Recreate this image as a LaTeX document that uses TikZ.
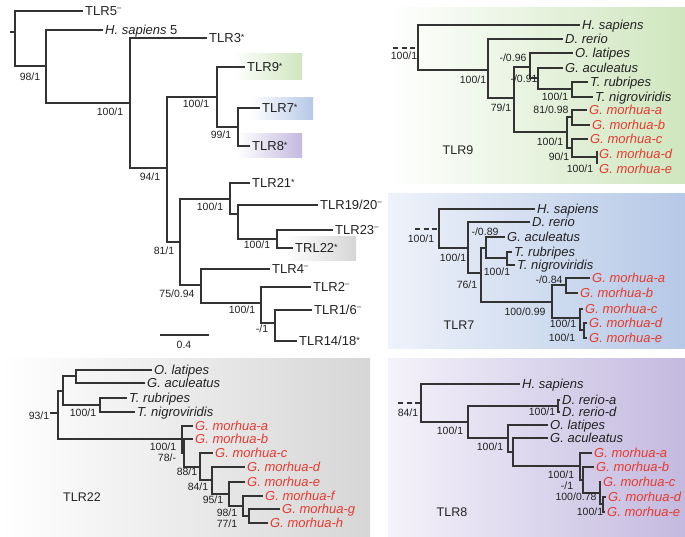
\documentclass[tikz,border=0pt]{standalone}
\usepackage{fontspec}
\setmainfont{Liberation Sans}
\definecolor{ln}{HTML}{333333}
\definecolor{txt}{HTML}{222222}
\definecolor{morhua}{HTML}{E63A2E}
\definecolor{gR}{HTML}{CFE6BE}
\definecolor{bR}{HTML}{B5C8E6}
\definecolor{bL}{HTML}{EEF2FA}
\definecolor{pR}{HTML}{C3B9DF}
\definecolor{pL}{HTML}{F4F2FA}
\definecolor{kR}{HTML}{D6D6D6}
\newcommand{\sm}{\raisebox{5pt}{\fontsize{8}{8}\selectfont\textendash}}
\newcommand{\sa}{\raisebox{2.5pt}{\fontsize{9}{9}\selectfont *}}
\begin{document}
\begin{tikzpicture}[x=1pt,y=-1pt,
 br/.style={draw=ln, line width=1.3pt},
 stub/.style={draw=ln, line width=1.3pt, dash pattern=on 5pt off 3.5pt},
 leaf/.style={anchor=west, inner sep=2pt, font=\fontsize{13}{13}\selectfont, text=txt, text height=9.5pt, text depth=0.5pt},
 sp/.style={leaf, font=\fontsize{13}{13}\selectfont\itshape},
 gm/.style={sp, text=morhua},
 bs/.style={font=\fontsize{10.5}{10.5}\selectfont, text=txt, inner sep=0pt},
 ttl/.style={font=\fontsize{12.5}{12.5}\selectfont, text=txt, inner sep=0pt}]
\useasboundingbox (0,0) rectangle (685,536);
% backgrounds
\shade[left color=white, right color=gR] (388,7) rectangle (685,183);
\shade[left color=bL, right color=bR] (388,193) rectangle (685,348);
\shade[left color=pL, right color=pR] (388,358) rectangle (685,536);
\shade[left color=white, right color=kR] (0,358) rectangle (370,536);
\shade[left color=white, right color=gR] (233,53) rectangle (302,79);
\shade[left color=white, right color=bR] (250,97) rectangle (313,119);
\shade[left color=white, right color=pR] (237,133) rectangle (302,157);
\shade[left color=white, right color=kR] (285,236) rectangle (356,260);

% ---------------- main tree ----------------
\coordinate (r0s) at (10,32);
\coordinate (r0) at (15,32);
\coordinate (n98) at (46,66);
\coordinate (n100a) at (130,103);
\coordinate (n94) at (167,168);
\coordinate (n100b) at (217,97);
\coordinate (n99) at (238,127);
\coordinate (n81) at (180,242);
\coordinate (n100c) at (230,199);
\coordinate (nX) at (238,214);
\coordinate (n100d) at (277,239);
\coordinate (n75) at (201,285);
\coordinate (n100e) at (261,303);
\coordinate (nm1) at (275,323);
\node[leaf] (m5) at (83,11) {TLR5\sm};
\node[leaf] (mhs) at (103,30) {\textit{H. sapiens} 5};
\node[leaf] (m3) at (207,38) {TLR3\sa};
\node[leaf] (m9) at (245,67) {TLR9\sa};
\node[leaf] (m7) at (260,108) {TLR7\sa};
\node[leaf] (m8) at (250,146) {TLR8\sa};
\node[leaf] (m21) at (250,183) {TLR21\sa};
\node[leaf] (m19) at (318,205) {TLR19/20\sm};
\node[leaf] (m23) at (333,230) {TLR23\sm};
\node[leaf] (m22) at (293,248) {TRL22\sa};
\node[leaf] (m4) at (270,269) {TLR4\sm};
\node[leaf] (m2) at (311,287) {TLR2\sm};
\node[leaf] (m16) at (312,310) {TLR1/6\sm};
\node[leaf] (m14) at (297,341) {TLR14/18\sa};
\draw[br] (r0s) -- (r0) (r0) |- (m5.west) (r0) |- (n98)
 (n98) |- (mhs.west) (n98) |- (n100a)
 (n100a) |- (m3.west) (n100a) |- (n94)
 (n94) |- (n100b) (n94) |- (n81)
 (n100b) |- (m9.west) (n100b) |- (n99)
 (n99) |- (m7.west) (n99) |- (m8.west)
 (n81) |- (n100c) (n81) |- (n75)
 (n100c) |- (m21.west) (n100c) |- (nX)
 (nX) |- (m19.west) (nX) |- (n100d)
 (n100d) |- (m23.west) (n100d) |- (m22.west)
 (n75) |- (m4.west) (n75) |- (n100e)
 (n100e) |- (m2.west) (n100e) |- (nm1)
 (nm1) |- (m16.west) (nm1) |- (m14.west);
\node[bs] (ma1) at (30,77) {98/1};
\node[bs] (ma2) at (110,112) {100/1};
\node[bs] (ma3) at (150,177) {94/1};
\node[bs] (ma4) at (196,104) {100/1};
\node[bs] (ma5) at (221,135) {99/1};
\node[bs] (ma6) at (164,251) {81/1};
\node[bs] (ma7) at (210,207) {100/1};
\node[bs] (ma8) at (257,245) {100/1};
\node[bs] (ma9) at (177,294) {75/0.94};
\node[bs] (ma10) at (242,310) {100/1};
\node[bs] (ma11) at (262,329) {-/1};
\coordinate (sb1) at (160,335);
\coordinate (sb2) at (209,335);
\draw[br] (sb1) -- (sb2);
\node[bs] (sbl) at (184,345) {0.4};

% ---------------- TLR9 panel ----------------
\coordinate (g0s) at (393,48);
\coordinate (g0) at (418,48);
\coordinate (g1) at (488,70);
\coordinate (g2) at (514,98);
\coordinate (g3) at (530,67);
\coordinate (g5) at (538,78);
\coordinate (g6) at (572,89);
\coordinate (g4) at (567,132);
\coordinate (g7) at (572,117);
\coordinate (g8) at (572,148);
\coordinate (g9) at (597,157);
\coordinate (gd) at (597,151);
\coordinate (ge) at (597,164);
\node[sp] (ghs) at (580,25) {H. sapiens};
\node[sp] (gdr) at (563,39) {D. rerio};
\node[sp] (gol) at (573,53) {O. latipes};
\node[sp] (gga) at (563,68) {G. aculeatus};
\node[sp] (gtr) at (588,82) {T. rubripes};
\node[sp] (gtn) at (593,97) {T. nigroviridis};
\node[gm] (gma) at (587,110) {G. morhua-a};
\node[gm] (gmb) at (590,125) {G. morhua-b};
\node[gm] (gmc) at (588,139) {G. morhua-c};
\node[gm] (gmd) at (597,154) {G. morhua-d};
\node[gm] (gme) at (597,169) {G. morhua-e};
\draw[stub] (g0s) -- (g0);
\draw[br] (g0) |- (ghs.west) (g0) |- (g1)
 (g1) |- (gdr.west) (g1) |- (g2)
 (g2) |- (g3) (g2) |- (g4)
 (g3) |- (gol.west) (g3) |- (g5)
 (g5) |- (gga.west) (g5) |- (g6)
 (g6) |- (gtr.west) (g6) |- (gtn.west)
 (g4) |- (g7) (g4) |- (g8)
 (g7) |- (gma.west) (g7) |- (gmb.west)
 (g8) |- (gmc.west) (g8) |- (g9)
 (gd) -- (ge);
\node[bs] (ga1) at (404,56) {100/1};
\node[bs] (ga2) at (473,80) {100/1};
\node[bs] (ga3) at (501,108) {79/1};
\node[bs] (ga4) at (513,58) {-/0.96};
\node[bs] (ga5) at (524,79) {-/0.91};
\node[bs] (ga6) at (555,97) {100/1};
\node[bs] (ga7) at (551,110) {81/0.98};
\node[bs] (ga8) at (550,142) {100/1};
\node[bs] (ga9) at (559,157) {90/1};
\node[bs] (ga10) at (580,169) {100/1};
\node[ttl] (gt) at (458,150) {TLR9};

% ---------------- TLR7 panel ----------------
\coordinate (b0s) at (415,229);
\coordinate (b0) at (439,229);
\coordinate (b1) at (468,248);
\coordinate (b2) at (481,273);
\coordinate (b3) at (486,248);
\coordinate (b5) at (507,258);
\coordinate (b4) at (552,302);
\coordinate (b6) at (566,285);
\coordinate (b7) at (580,318);
\coordinate (b8) at (584,330);
\node[sp] (bhs) at (535,209) {H. sapiens};
\node[sp] (bdr) at (530,222) {D. rerio};
\node[sp] (bga) at (505,237) {G. aculeatus};
\node[sp] (btr) at (512,252) {T. rubripes};
\node[sp] (btn) at (515,265) {T. nigroviridis};
\node[gm] (bma) at (590,278) {G. morhua-a};
\node[gm] (bmb) at (578,293) {G. morhua-b};
\node[gm] (bmc) at (583,309) {G. morhua-c};
\node[gm] (bmd) at (587,323) {G. morhua-d};
\node[gm] (bme) at (587,338) {G. morhua-e};
\draw[stub] (b0s) -- (b0);
\draw[br] (b0) |- (bhs.west) (b0) |- (b1)
 (b1) |- (bdr.west) (b1) |- (b2)
 (b2) |- (b3) (b2) |- (b4)
 (b3) |- (bga.west) (b3) |- (b5)
 (b5) |- (btr.west) (b5) |- (btn.west)
 (b4) |- (b6) (b4) |- (b7)
 (b6) |- (bma.west) (b6) |- (bmb.west)
 (b7) |- (bmc.west) (b7) |- (b8)
 (b8) |- (bmd.west) (b8) |- (bme.west);
\node[bs] (ba1) at (421,239) {100/1};
\node[bs] (ba2) at (453,258) {100/1};
\node[bs] (ba3) at (467,285) {76/1};
\node[bs] (ba4) at (485,232) {-/0.89};
\node[bs] (ba5) at (497,272) {100/1};
\node[bs] (ba6) at (525,312) {100/0.99};
\node[bs] (ba7) at (549,280) {-/0.84};
\node[bs] (ba8) at (563,324) {100/1};
\node[bs] (ba9) at (562,338) {100/1};
\node[ttl] (bt) at (459,325) {TLR7};

% ---------------- TLR8 panel ----------------
\coordinate (p0s) at (398,403);
\coordinate (p0) at (421,403);
\coordinate (p1) at (468,422);
\coordinate (p2) at (558,406);
\coordinate (p3) at (508,438);
\coordinate (p4) at (513,452);
\coordinate (p5) at (580,466);
\coordinate (p6) at (583,480);
\coordinate (p7) at (600,493);
\coordinate (p8) at (603,504);
\node[sp] (phs) at (520,384) {H. sapiens};
\node[sp] (pda) at (560,400) {D. rerio-a};
\node[sp] (pdd) at (560,412) {D. rerio-d};
\node[sp] (pol) at (548,425) {O. latipes};
\node[sp] (pga) at (548,438) {G. aculeatus};
\node[gm] (pma) at (592,453) {G. morhua-a};
\node[gm] (pmb) at (594,467) {G. morhua-b};
\node[gm] (pmc) at (601,482) {G. morhua-c};
\node[gm] (pmd) at (606,497) {G. morhua-d};
\node[gm] (pme) at (605,512) {G. morhua-e};
\draw[stub] (p0s) -- (p0);
\draw[br] (p0) |- (phs.west) (p0) |- (p1)
 (p1) |- (p2) (p1) |- (p3)
 (p2) |- (pda.west) (p2) |- (pdd.west)
 (p3) |- (pol.west) (p3) |- (p4)
 (p4) |- (pga.west) (p4) |- (p5)
 (p5) |- (pma.west) (p5) |- (p6)
 (p6) |- (pmb.west) (p6) |- (p7)
 (p7) |- (pmc.west) (p7) |- (p8)
 (p8) |- (pmd.west) (p8) |- (pme.west);
\node[bs] (pa1) at (408,413) {84/1};
\node[bs] (pa2) at (450,431) {100/1};
\node[bs] (pa3) at (542,412) {100/1};
\node[bs] (pa4) at (490,447) {100/1};
\node[bs] (pa5) at (561,475) {100/1};
\node[bs] (pa6) at (567,486) {-/1};
\node[bs] (pa7) at (576,497) {100/0.78};
\node[bs] (pa8) at (590,512) {100/1};
\node[ttl] (pt) at (452,512) {TLR8};

% ---------------- TLR22 panel ----------------
\coordinate (q0s) at (50,413);
\coordinate (q0) at (58,413);
\coordinate (q1) at (63,391);
\coordinate (q2) at (76,376);
\coordinate (q3) at (100,405);
\coordinate (q4) at (182,439);
\coordinate (q5) at (184,453);
\coordinate (q6) at (200,467);
\coordinate (q7) at (212,480);
\coordinate (q8) at (229,494);
\coordinate (q9) at (243,506);
\coordinate (q10) at (249,516);
\node[sp] (qol) at (152,370) {O. latipes};
\node[sp] (qga) at (145,383) {G. aculeatus};
\node[sp] (qtr) at (127,398) {T. rubripes};
\node[sp] (qtn) at (135,412) {T. nigroviridis};
\node[gm] (qma) at (193,426) {G. morhua-a};
\node[gm] (qmb) at (193,439) {G. morhua-b};
\node[gm] (qmc) at (213,453) {G. morhua-c};
\node[gm] (qmd) at (245,467) {G. morhua-d};
\node[gm] (qme) at (245,482) {G. morhua-e};
\node[gm] (qmf) at (263,496) {G. morhua-f};
\node[gm] (qmg) at (280,509) {G. morhua-g};
\node[gm] (qmh) at (268,523) {G. morhua-h};
\draw[br] (q0s) -- (q0) (q0) |- (q1) (q0) |- (q4)
 (q1) |- (q2) (q1) |- (q3)
 (q2) |- (qol.west) (q2) |- (qga.west)
 (q3) |- (qtr.west) (q3) |- (qtn.west)
 (q4) |- (qma.west) (q4) |- (q5)
 (q5) |- (qmb.west) (q5) |- (q6)
 (q6) |- (qmc.west) (q6) |- (q7)
 (q7) |- (qmd.west) (q7) |- (q8)
 (q8) |- (qme.west) (q8) |- (q9)
 (q9) |- (qmf.west) (q9) |- (q10)
 (q10) |- (qmg.west) (q10) |- (qmh.west);
\node[bs] (qa1) at (39,416) {93/1};
\node[bs] (qa2) at (83,413) {100/1};
\node[bs] (qa3) at (163,447) {100/1};
\node[bs] (qa4) at (167,458) {78/-};
\node[bs] (qa5) at (187,472) {88/1};
\node[bs] (qa6) at (198,487) {84/1};
\node[bs] (qa7) at (213,500) {95/1};
\node[bs] (qa8) at (227,513) {98/1};
\node[bs] (qa9) at (227,524) {77/1};
\node[ttl] (qt) at (82,497) {TLR22};
\end{tikzpicture}
\end{document}
